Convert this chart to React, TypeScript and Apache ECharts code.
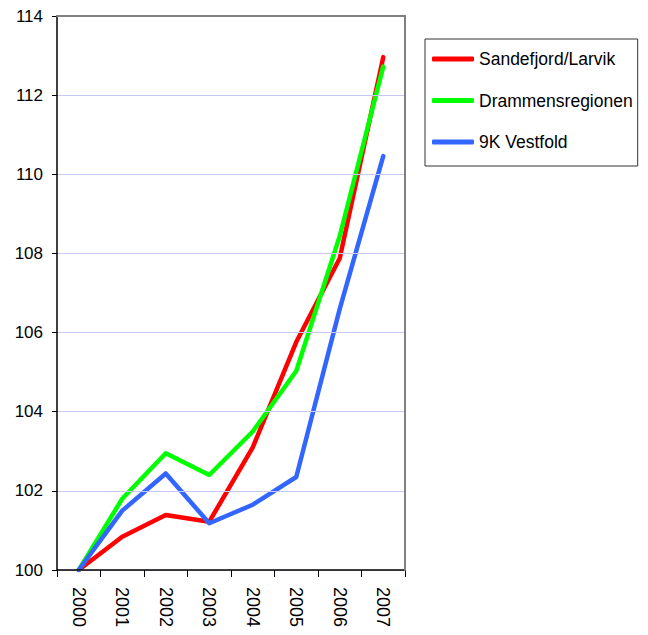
import React, { useEffect, useRef } from "react";
import * as echarts from "echarts";

const years = ["2000", "2001", "2002", "2003", "2004", "2005", "2006", "2007"];
const sandefjordLarvik = [100, 100.84, 101.39, 101.22, 103.1, 105.76, 107.88, 112.96];
const drammensregionen = [100, 101.8, 102.95, 102.4, 103.5, 105.03, 108.44, 112.72];
const vestfold9K = [100, 101.5, 102.44, 101.18, 101.65, 102.35, 106.6, 110.46];

const FONT = "'Liberation Sans', Arial, sans-serif";

export default function App() {
  const ref = useRef<HTMLDivElement>(null);
  useEffect(() => {
    if (!ref.current) return;
    const chart = echarts.init(ref.current, undefined, { renderer: "svg" });
    const mk = (name: string, data: number[], color: string) => ({
      name,
      type: "line",
      data,
      symbol: "none",
      smooth: false,
      z: 3,
      lineStyle: { color, width: 4.5, cap: "round", join: "round" },
      itemStyle: { color },
    });
    chart.setOption({
      animation: false,
      backgroundColor: "#ffffff",
      textStyle: { fontFamily: FONT },
      grid: {
        left: 57,
        top: 16,
        right: 243,
        bottom: 65,
        show: false,
      },
      legend: {
        orient: "vertical",
        left: 425,
        top: 39,
        padding: [10, 5, 14, 7],
        itemGap: 21.5,
        itemWidth: 42,
        itemHeight: 5,
        icon: "roundRect",
        borderColor: "#333333",
        borderWidth: 1,
        textStyle: { fontSize: 17.5, color: "#000", fontFamily: FONT, lineHeight: 20 },
        data: ["Sandefjord/Larvik", "Drammensregionen", "9K Vestfold"],
      },
      xAxis: [
        {
          type: "category",
          data: years,
          boundaryGap: true,
          z: 5,
          axisLine: { lineStyle: { color: "#000", width: 1.5 } },
          axisTick: { show: true, length: 7, lineStyle: { color: "#000", width: 1 } },
          axisLabel: { rotate: -90, margin: 17, fontSize: 18, color: "#000", fontFamily: FONT },
          splitLine: { show: false },
        },
        {
          type: "category",
          data: years,
          position: "top",
          z: 7,
          axisLine: { show: true, lineStyle: { color: "#808080", width: 2 } },
          axisTick: { show: false },
          axisLabel: { show: false },
          splitLine: { show: false },
        },
      ],
      yAxis: [
        {
          type: "value",
          min: 100,
          max: 114,
          interval: 2,
          z: 5,
          axisLine: { show: true, lineStyle: { color: "#000", width: 1.5 } },
          axisTick: { show: true, length: 5, lineStyle: { color: "#000", width: 1 } },
          axisLabel: { margin: 14, fontSize: 17, color: "#000", fontFamily: FONT },
          splitLine: { show: true, lineStyle: { color: "#C8C8F4", width: 1 } },
        },
        {
          type: "value",
          min: 100,
          max: 114,
          interval: 2,
          position: "right",
          z: 7,
          axisLine: { show: true, lineStyle: { color: "#808080", width: 2 } },
          axisTick: { show: false },
          axisLabel: { show: false },
          splitLine: { show: false },
        },
      ],
      series: [
        mk("Sandefjord/Larvik", sandefjordLarvik, "#FF0000"),
        mk("Drammensregionen", drammensregionen, "#00FF00"),
        mk("9K Vestfold", vestfold9K, "#3366FF"),
      ],
    });
    return () => chart.dispose();
  }, []);
  return (
    <div
      ref={ref}
      style={{ position: "absolute", left: 0, top: 0, width: 648, height: 635 }}
    />
  );
}
